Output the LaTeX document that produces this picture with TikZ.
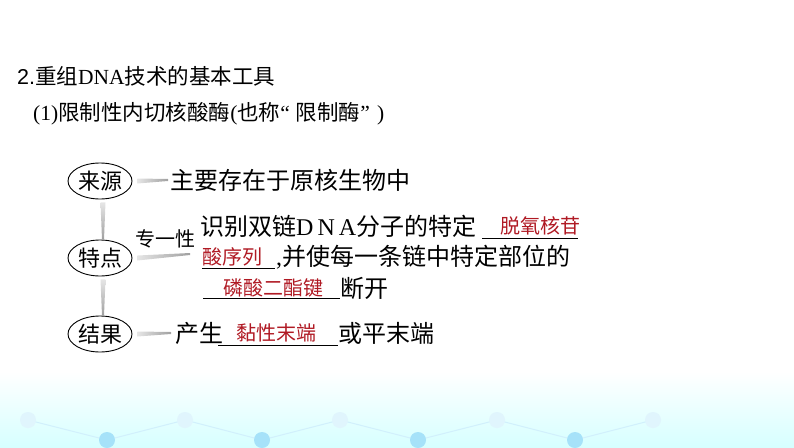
\documentclass[tikz,border=0pt]{standalone}
\usepackage{fontspec}
\setmainfont{Liberation Serif}
\setsansfont{Liberation Sans}
\newfontfamily\cjk{Noto Sans CJK SC}
\usetikzlibrary{shapes, positioning, calc}
\definecolor{ansred}{RGB}{176,26,36}

\begin{document}
\begin{tikzpicture}[
        x=1pt, y=-1pt,
        head/.style={anchor=west, inner sep=0pt, font=\cjk\fontsize{21.5}{26}\selectfont},
        oval/.style={ellipse, draw=black, line width=0.9pt, inner sep=0pt, minimum width=64pt, minimum height=36pt, font=\cjk\fontsize{22}{26}\selectfont},
        body/.style={anchor=west, inner sep=0pt, font=\cjk\fontsize{24}{28}\selectfont},
        ans/.style={anchor=west, inner sep=0pt, text=ansred, font=\cjk\fontsize{20}{24}\selectfont},
        blank/.style={line width=0.8pt, black},
        hbar/.style={left color=gray!20, right color=gray!75},
        vbar/.style={top color=gray!20, bottom color=gray!75}
    ]
        \useasboundingbox (0,0) rectangle (794,447);

        % Background
        \shade[top color=white, bottom color=cyan!16] (0,372) rectangle (794,447);
        \draw[cyan!18, line width=1pt] (28,420) -- (107,440) -- (185,420) -- (262,440) -- (340,420) -- (418,440) -- (497,420) -- (575,440) -- (653,420);
        \foreach \x in {28,185,340,497,653} \fill[cyan!12] (\x,420) circle (8);
        \foreach \x in {107,262,418,575} \fill[cyan!35] (\x,440) circle (8);

        % Titles
        \node[head] (title) at (17,76) {{\sffamily 2.}重组{\rmfamily DNA}技术的基本工具};
        \node[head] (subtitle) at (33,114) {{\rmfamily (1)}限制性内切核酸酶{\rmfamily (}也称{\rmfamily ``\hspace{6pt}}限制酶{\rmfamily ''\hspace{7pt})}};

        % Ovals
        \node[oval] (laiyuan) at (100,181) {来源};
        \node[oval] (tedian) at (100,258) {特点};
        \node[oval] (jieguo) at (100,334) {结果};

        % Texts
        \node[body] (srctext) at (170,180) {主要存在于原核生物中};
        \node[anchor=west, inner sep=0pt, font=\cjk\fontsize{20}{24}\selectfont] (zhuanyi) at (135,239) {专一性};
        \coordinate (tip) at (190,254);

        \node[body] (line1) at (200,226) {识别双链{\rmfamily D\,N\,A}分子的特定};
        \node[ans] (ans1a) at (500,226) {脱氧核苷};
        \draw[blank] (482,238) -- (578,238);

        \node[ans] (ans1b) at (202,257) {酸序列};
        \draw[blank] (202,268) -- (275,268);
        \node[body] (line2) at (276,257) {{\rmfamily ,}并使每一条链中特定部位的};

        \node[ans] (ans2) at (223,288) {磷酸二酯键};
        \draw[blank] (203,298) -- (340,298);
        \node[body] (duankai) at (340,288) {断开};

        \node[body] (chansheng) at (175,333) {产生};
        \node[ans] (ans3) at (236,333) {黏性末端};
        \draw[blank] (218,345) -- (338,345);
        \node[body] (huoping) at (338,333) {或平末端};

        % Connectors
        \shade[hbar] ($(laiyuan.east)+(5,-2.5)$) -- ($(srctext.west)+(-2,-1)$) -- ($(srctext.west)+(-2,1)$) -- ($(laiyuan.east)+(5,2.5)$) -- cycle;
        \shade[hbar] ($(tedian.east)+(5,-2.5)$) -- ($(tip)+(0,-1)$) -- ($(tip)+(0,1)$) -- ($(tedian.east)+(5,2.5)$) -- cycle;
        \shade[hbar] ($(jieguo.east)+(5,-2.5)$) -- ($(chansheng.west)+(-4,-1)$) -- ($(chansheng.west)+(-4,1)$) -- ($(jieguo.east)+(5,2.5)$) -- cycle;
        \shade[vbar] ($(laiyuan.south)+(0.5,3)$) -- ($(tedian.north)+(2,0)$) -- ($(tedian.north)+(4,0)$) -- ($(laiyuan.south)+(5.5,3)$) -- cycle;
        \shade[vbar] ($(tedian.south)+(0.5,3)$) -- ($(jieguo.north)+(2,0)$) -- ($(jieguo.north)+(4,0)$) -- ($(tedian.south)+(5.5,3)$) -- cycle;

    \end{tikzpicture}
\end{document}
